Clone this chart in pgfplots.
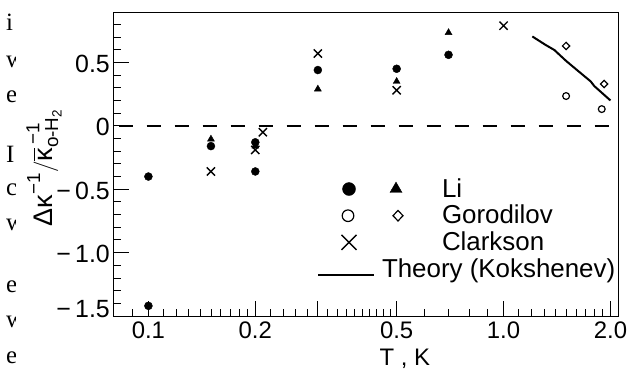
\documentclass[border=0pt]{standalone}
\usepackage{fontspec}
\setmainfont{Liberation Sans}
\newfontfamily\pageserif{Liberation Serif}
\usepackage{amsmath}
\usepackage{pgfplots}
\pgfplotsset{compat=1.18}

\begin{document}
\begin{tikzpicture}
\path[use as bounding box] (0bp,0bp) rectangle (627bp,376bp);
% clipped letters of the neighbouring page column
\begin{scope}
\clip (0bp,0bp) rectangle (15.5bp,376bp);
\foreach \ch/\yy in {i/345, w/308, e/273, I/213, c/180, w/145, e/83, w/48, e/13} {
  \node[font=\pageserif\fontsize{25}{28}\selectfont, anchor=base west, inner sep=0pt] at (6bp, \yy bp) {\ch};
}
\end{scope}
\begin{axis}[
  at={(114bp,60bp)}, anchor=south west,
  scale only axis, width=504bp, height=303bp,
  xmode=log, xmin=0.08, xmax=2.1, ymin=-1.5, ymax=0.89,
  xtick={0.1,0.2,0.3,0.5,1,2},
  xticklabels={0.1,0.2,,0.5,1.0,2.0},
  minor xtick={0.09,0.11,0.12,0.13,0.14,0.15,0.16,0.17,0.18,0.19,
    0.22,0.24,0.26,0.28,0.32,0.34,0.36,0.38,0.40,0.42,0.44,0.46,0.48,
    0.6,0.7,0.8,0.9,1.1,1.2,1.3,1.4,1.5,1.6,1.7,1.8,1.9},
  ytick={-1.5,-1,-0.5,0,0.5},
  yticklabels={{\raisebox{8bp}[\height][\depth]{−\,1.5}},{−\,1.0},{−\,0.5},0,0.5},
  minor ytick={-1.4,-1.3,-1.2,-1.1,-0.9,-0.8,-0.7,-0.6,-0.4,-0.3,-0.2,-0.1,0.1,0.2,0.3,0.4,0.6,0.7,0.8},
  xtick pos=bottom, ytick pos=left, tick align=inside,
  major tick length=15bp, minor tick length=7bp,
  every tick/.style={black, line width=0.9bp},
  axis line style={line width=1bp},
  xticklabel style={font=\fontsize{24}{28}\selectfont, yshift=-2bp},
  yticklabel style={font=\fontsize{25}{30}\selectfont, inner sep=4bp, yshift=-1.5bp},
  xlabel={T , K},
  xlabel style={font=\fontsize{24}{28}\selectfont, at={(axis description cs:0.577,0)}, anchor=base, yshift=-49bp},
  ylabel={$\text{Δκ}^{\text{−1}}/\overline{\text{κ}}^{\,\text{−1}}_{\text{o-H}_{\text{2}}}$},
  ylabel style={font=\fontsize{27}{32}\selectfont, at={(axis description cs:-0.123,0.49)}, anchor=base},
  legend cell align=left,
  legend style={draw=none, fill=none, at={(rel axis cs:0.4028,0.4554)}, anchor=north west,
    inner sep=0pt, outer sep=0pt, row sep=2bp, column sep=7bp,
    nodes={inner sep=0pt, text height=19bp, text depth=5.7bp, font=\fontsize{26}{30}\selectfont}},
]
% zero line
\addplot[forget plot, line width=1.6bp, dash pattern=on 14bp off 14bp, dash phase=23.3bp] coordinates {(0.08,0) (2.1,0)};
% Li: filled circles
\addplot[forget plot, only marks, mark=*, mark size=4bp, black] coordinates {
  (0.1,-0.40) (0.1,-1.42) (0.15,-0.16) (0.2,-0.13) (0.2,-0.36) (0.3,0.44) (0.5,0.45) (0.7,0.56)};
% Li: filled triangles
\addplot[forget plot, only marks, mark=triangle*, mark size=4bp, black] coordinates {
  (0.15,-0.105) (0.2,-0.16) (0.3,0.29) (0.5,0.35) (0.7,0.735)};
% Gorodilov: open circles
\addplot[forget plot, only marks, mark=o, mark size=3.4bp, mark options={line width=1.2bp}, black] coordinates {
  (1.5,0.235) (1.89,0.132)};
% Gorodilov: open diamonds
\addplot[forget plot, only marks, mark=square, mark size=2.6bp, mark options={rotate=45, line width=1.2bp}, black] coordinates {
  (1.5,0.63) (1.92,0.33)};
% Clarkson: crosses
\addplot[forget plot, only marks, mark=x, mark size=5.8bp, mark options={line width=1.4bp}, black] coordinates {
  (0.15,-0.36) (0.21,-0.05) (0.2,-0.19) (0.3,0.57) (0.5,0.28) (1.0,0.79)};
% Theory (Kokshenev)
\addplot[forget plot, line width=2bp, black] coordinates {
  (1.205,0.705) (1.31,0.64) (1.39,0.598) (1.5,0.512) (1.61,0.44) (1.76,0.35) (1.80,0.314) (2.0,0.2)};
% legend
\addlegendimage{legend image code/.code={
  \path[draw=none, fill=none] (0bp,0bp) rectangle (56bp,1bp);
  \fill[black] (31bp,1.35bp) circle[radius=6.5bp];
  \fill[overlay, black] (78bp,8.25bp) -- (72bp,-2.1bp) -- (84bp,-2.1bp) -- cycle;
}}
\addlegendentry{\hspace*{60bp}Li}
\addlegendimage{legend image code/.code={
  \path[draw=none, fill=none] (0bp,0bp) rectangle (56bp,1bp);
  \draw[black, line width=1.2bp] (30bp,1.35bp) circle[radius=5.8bp];
  \draw[overlay, black, line width=1.2bp] (80bp,6.6bp) -- (85bp,1.35bp) -- (80bp,-3.9bp) -- (75bp,1.35bp) -- cycle;
}}
\addlegendentry{\hspace*{60bp}Gorodilov}
\addlegendimage{legend image code/.code={
  \path[draw=none, fill=none] (0bp,0bp) rectangle (56bp,1bp);
  \draw[black, line width=1.4bp] (23.5bp,-6.15bp) -- (38.5bp,8.85bp) (23.5bp,8.85bp) -- (38.5bp,-6.15bp);
}}
\addlegendentry{\hspace*{60bp}Clarkson}
\addlegendimage{legend image code/.code={
  \draw[black, line width=2bp] (0bp,-4.15bp) -- (56bp,-4.15bp);
}}
\addlegendentry{Theory (Kokshenev)}
\end{axis}
\end{tikzpicture}
\end{document}
